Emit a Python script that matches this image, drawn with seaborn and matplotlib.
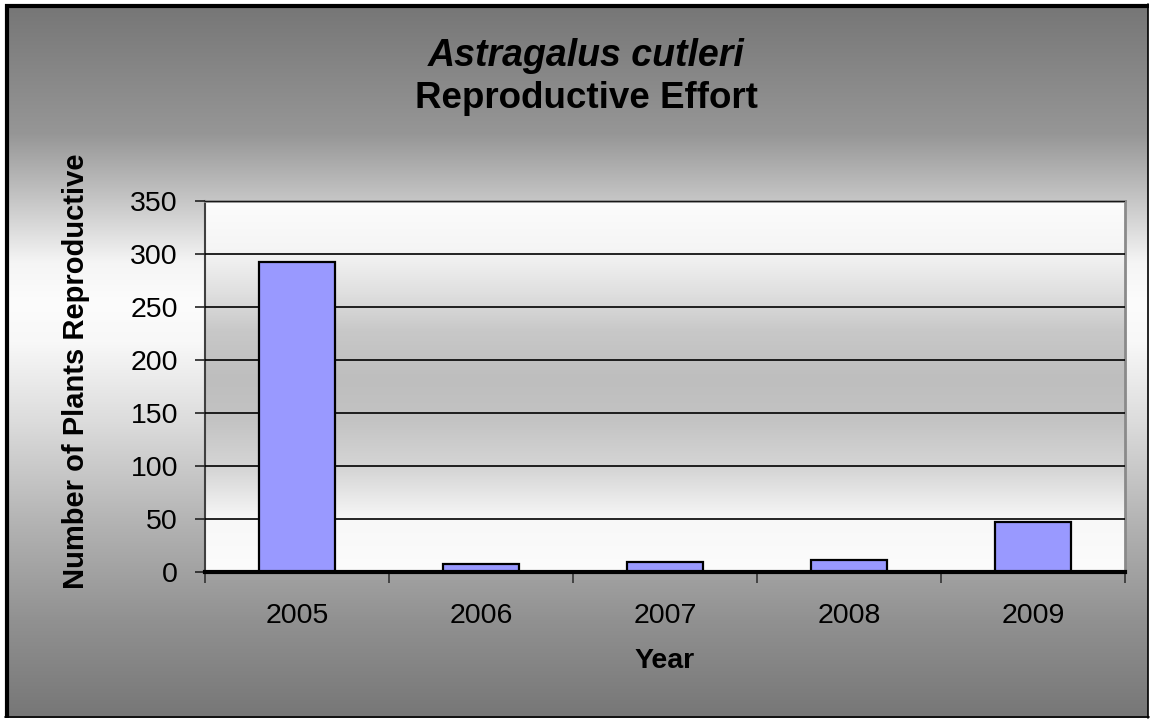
import numpy as np
import pandas as pd
import seaborn as sns
import matplotlib.pyplot as plt
from matplotlib.ticker import FixedLocator

years = ["2005", "2006", "2007", "2008", "2009"]
reproductive = [292, 8, 9, 11, 47]

y_ticks = [0, 50, 100, 150, 200, 250, 300, 350]
title_species = "Astragalus cutleri"
title_main = "Reproductive Effort"
x_label = "Year"
y_label = "Number of Plants Reproductive"

sns.set_theme(style="white")
plt.rcParams["font.family"] = ["Liberation Sans", "DejaVu Sans"]

W, H = 1151, 719
fig = plt.figure(figsize=(W / 100, H / 100), dpi=100)
fig.patch.set_facecolor("white")

# outer chart-area gradient (grey top/bottom, white band in the upper middle)
bg = fig.add_axes([9 / W, 1 / H, (1148 - 9) / W, (715 - 1) / H])
rows = np.arange(H)
stops_y = [0, 130, 200, 260, 300, 340, 420, 520, 620, 719]
stops_v = [118, 150, 200, 245, 252, 248, 220, 180, 145, 118]
g = np.interp(rows, stops_y, stops_v) / 255.0
img = np.repeat(g[:, None], 4, axis=1)
bg.imshow(np.dstack([img, img, img]), aspect="auto", extent=[0, 1, 0, 1])
bg.set_axis_off()
bg.set_zorder(-5)

# frame around the chart area
frame = fig.add_axes([0, 0, 1, 1], facecolor="none")
frame.set_xlim(0, W)
frame.set_ylim(H, 0)
frame.set_axis_off()
frame.plot([7, 7], [4, 718], color="black", lw=3.0, solid_capstyle="butt")
frame.plot([5, 1149], [6, 6], color="black", lw=3.0, solid_capstyle="butt")
frame.plot([1148, 1148], [4, 718], color="black", lw=1.2)
frame.plot([5, 1149], [717, 717], color="black", lw=1.2)

ax = fig.add_axes([205 / W, 1 - 572 / H, (1125 - 205) / W, (572 - 201) / H])
ax.set_zorder(2)

# plot area gradient: white at top and bottom, grey through the middle
pa = np.linspace(0, 1, 400)
pa_v = np.interp(pa, [0, 0.14, 0.27, 0.41, 0.52, 0.65, 0.76, 0.87, 1.0],
                 [252, 248, 215, 195, 190, 200, 225, 245, 252]) / 255.0
pimg = np.repeat(pa_v[:, None], 4, axis=1)
ax.imshow(np.dstack([pimg, pimg, pimg]), aspect="auto", origin="lower",
          extent=[-0.5, 4.5, 0, 350], zorder=0)

df = pd.DataFrame({"year": years, "count": reproductive})
sns.barplot(data=df, x="year", y="count", order=years, color="#9999FF",
            saturation=1, width=0.41, edgecolor="black", linewidth=1.6,
            ax=ax, zorder=3)

ax.set_xlim(-0.5, 4.5)
ax.set_ylim(0, 350)
ax.set_yticks(y_ticks)
ax.yaxis.grid(True, color="black", lw=1.2)
ax.set_axisbelow(False)
for gl in ax.get_ygridlines():
    gl.set_zorder(1)
ax.xaxis.grid(False)

ax.xaxis.set_minor_locator(FixedLocator(np.arange(-0.5, 5, 1.0)))
ax.tick_params(axis="x", which="major", length=0, pad=22, labelsize=20.5, labelcolor="black")
ax.tick_params(axis="x", which="minor", length=8, width=1.2, color="#333333",
               direction="out", bottom=True)
ax.tick_params(axis="y", which="major", length=7.5, width=1.2, color="#222222",
               direction="out", left=True, pad=12, labelsize=20.5, labelcolor="black")

for side in ["top", "right"]:
    ax.spines[side].set_visible(True)
    ax.spines[side].set_color("#8a8a8a")
    ax.spines[side].set_linewidth(2)
ax.spines["left"].set_color("#404040")
ax.spines["left"].set_linewidth(1.5)
ax.spines["bottom"].set_color("black")
ax.spines["bottom"].set_linewidth(3)
ax.spines["bottom"].set_zorder(5)

ax.set_xlabel(x_label, fontsize=20.5, fontweight="bold", labelpad=14, color="black")
ax.set_ylabel("")
fig.text(76 / W, 1 - 371 / H, y_label, rotation=90, ha="center", va="center",
         fontsize=21, fontweight="bold", color="black")

fig.text(586 / W, 1 - 56 / H, title_species, ha="center", va="center",
         fontsize=27, fontstyle="italic", fontweight="bold", color="black")
fig.text(586 / W, 1 - 99 / H, title_main, ha="center", va="center",
         fontsize=26.5, fontweight="bold", color="black")

fig.savefig("out.png", dpi=100)
